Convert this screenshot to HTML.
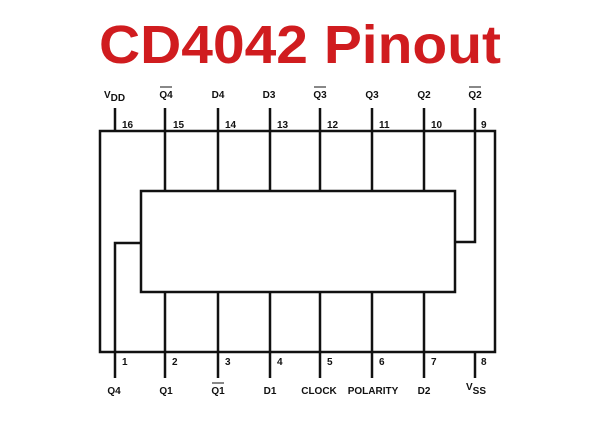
<!DOCTYPE html>
<html><head><meta charset="utf-8"><style>
html,body{margin:0;padding:0;background:#fff;}
svg{display:block;}
</style></head><body>
<svg width="602" height="436" viewBox="0 0 602 436" xmlns="http://www.w3.org/2000/svg">
<text x="300" y="63" text-anchor="middle" font-family="Liberation Sans, sans-serif" font-weight="bold" font-size="54" fill="#d01c1f" textLength="402" lengthAdjust="spacingAndGlyphs">CD4042 Pinout</text>
<g stroke="#111" stroke-width="2.5" fill="none">
<rect x="100" y="131" width="395" height="221"/>
<rect x="141" y="191" width="314" height="101"/>
<line x1="115" y1="108" x2="115" y2="131"/>
<line x1="165" y1="108" x2="165" y2="191"/>
<line x1="218" y1="108" x2="218" y2="191"/>
<line x1="270" y1="108" x2="270" y2="191"/>
<line x1="320" y1="108" x2="320" y2="191"/>
<line x1="372" y1="108" x2="372" y2="191"/>
<line x1="424" y1="108" x2="424" y2="191"/>
<polyline points="475,108 475,242 455,242"/>
<polyline points="115,378 115,243 141,243"/>
<line x1="165" y1="292" x2="165" y2="378"/>
<line x1="218" y1="292" x2="218" y2="378"/>
<line x1="270" y1="292" x2="270" y2="378"/>
<line x1="320" y1="292" x2="320" y2="378"/>
<line x1="372" y1="292" x2="372" y2="378"/>
<line x1="424" y1="292" x2="424" y2="378"/>
<line x1="475" y1="352" x2="475" y2="378"/>
</g>
<g font-family="Liberation Sans, sans-serif" font-weight="bold" font-size="10" fill="#111">
<text x="104" y="98">V<tspan font-size="10" dy="3">DD</tspan></text>
<text x="166" y="98" text-anchor="middle">Q4</text>
<text x="218" y="98" text-anchor="middle">D4</text>
<text x="269" y="98" text-anchor="middle">D3</text>
<text x="320" y="98" text-anchor="middle">Q3</text>
<text x="372" y="98" text-anchor="middle">Q3</text>
<text x="424" y="98" text-anchor="middle">Q2</text>
<text x="475" y="98" text-anchor="middle">Q2</text>
<text x="122" y="128">16</text>
<text x="173" y="128">15</text>
<text x="225" y="128">14</text>
<text x="277" y="128">13</text>
<text x="327" y="128">12</text>
<text x="379" y="128">11</text>
<text x="431" y="128">10</text>
<text x="481" y="128">9</text>
<text x="122" y="365">1</text>
<text x="172" y="365">2</text>
<text x="225" y="365">3</text>
<text x="277" y="365">4</text>
<text x="327" y="365">5</text>
<text x="379" y="365">6</text>
<text x="431" y="365">7</text>
<text x="481" y="365">8</text>
<text x="114" y="394" text-anchor="middle">Q4</text>
<text x="166" y="394" text-anchor="middle">Q1</text>
<text x="218" y="394" text-anchor="middle">Q1</text>
<text x="270" y="394" text-anchor="middle">D1</text>
<text x="319" y="394" text-anchor="middle">CLOCK</text>
<text x="373" y="394" text-anchor="middle">POLARITY</text>
<text x="424" y="394" text-anchor="middle">D2</text>
<text x="466" y="390">V<tspan dy="4">SS</tspan></text>
</g>
<g stroke="#111" stroke-width="1">
<line x1="160" y1="87" x2="172" y2="87"/>
<line x1="314" y1="87" x2="326" y2="87"/>
<line x1="469" y1="87" x2="481" y2="87"/>
<line x1="212" y1="383" x2="224" y2="383"/>
</g>
</svg>
</body></html>
